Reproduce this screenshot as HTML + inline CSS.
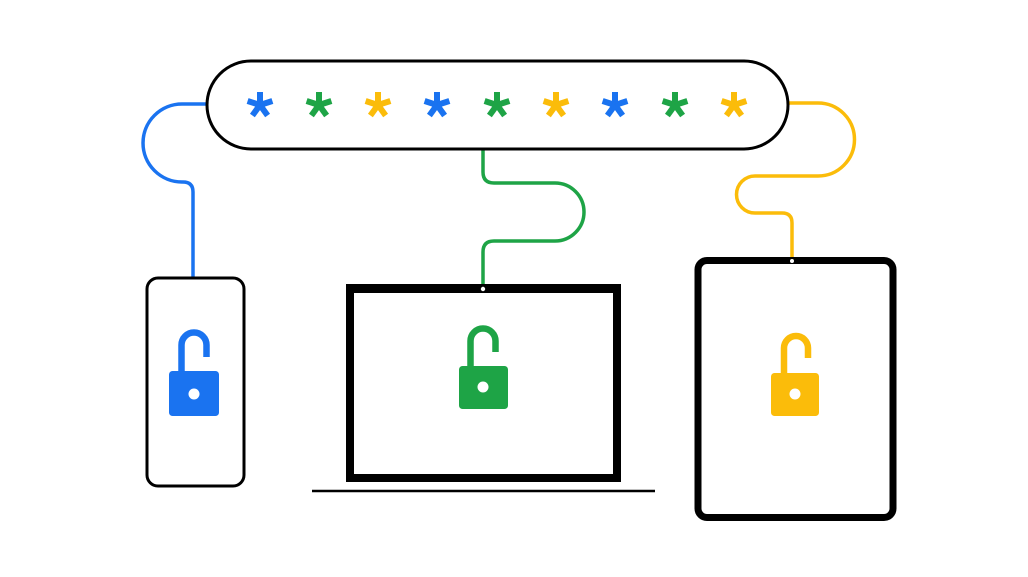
<!DOCTYPE html>
<html><head><meta charset="utf-8"><style>html,body{margin:0;padding:0;background:#fff}svg{display:block}</style></head>
<body>
<svg width="1028" height="577" viewBox="0 0 1028 577" xmlns="http://www.w3.org/2000/svg">
<defs>
<g id="ast" stroke-width="6" stroke-linecap="butt">
<line x1="0" y1="0" x2="0" y2="-13"/>
<line x1="0" y1="0" x2="12.4" y2="-4"/>
<line x1="0" y1="0" x2="-12.4" y2="-4"/>
<line x1="0" y1="0" x2="7.6" y2="10.5"/>
<line x1="0" y1="0" x2="-7.6" y2="10.5"/>
</g>
</defs>
<g fill="none" stroke-width="3.5">
<path d="M206,104 H182 A39,39 0 0 0 182,182 H183 Q193,182 193,192 V278" stroke="#1a73f0"/>
<path d="M483,150 V172 Q483,183 494,183 H555 A29,29 0 0 1 555,241 H494 Q483,241 483,252 V285" stroke="#1ea446"/>
<path d="M789,103 H818 A36.5,36.5 0 0 1 818,176 H755 A18.5,18.5 0 0 0 755,213 H782 Q792,213 792,223 V259" stroke="#fbbc0a"/>
</g>
<rect x="207" y="61" width="581" height="88" rx="44" fill="#fff" stroke="#000" stroke-width="3"/>
<use href="#ast" x="260" y="105" stroke="#1a73f0"/>
<use href="#ast" x="319" y="105" stroke="#1ea446"/>
<use href="#ast" x="378" y="105" stroke="#fbbc0a"/>
<use href="#ast" x="437" y="105" stroke="#1a73f0"/>
<use href="#ast" x="497" y="105" stroke="#1ea446"/>
<use href="#ast" x="556" y="105" stroke="#fbbc0a"/>
<use href="#ast" x="615" y="105" stroke="#1a73f0"/>
<use href="#ast" x="675" y="105" stroke="#1ea446"/>
<use href="#ast" x="734" y="105" stroke="#fbbc0a"/>
<!-- phone -->
<rect x="147" y="278" width="97" height="208" rx="11" fill="#fff" stroke="#000" stroke-width="3"/>
<!-- laptop -->
<rect x="350" y="289" width="267" height="189" fill="#fff" stroke="#000" stroke-width="8"/>
<rect x="346" y="284" width="275" height="8" fill="#000"/>
<circle cx="483" cy="289" r="2.2" fill="#fff"/>
<line x1="312" y1="491" x2="655" y2="491" stroke="#000" stroke-width="2.5"/>
<!-- tablet -->
<rect x="698" y="260.5" width="195" height="257" rx="9" fill="#fff" stroke="#000" stroke-width="7"/>
<circle cx="792" cy="261" r="2" fill="#fff"/>
<!-- locks -->
<g>
<path d="M181.5,372 V345 A12.5,12.5 0 0 1 206.5,345 V357" fill="none" stroke="#1a73f0" stroke-width="6.5"/>
<rect x="169" y="371" width="50" height="45" rx="3.5" fill="#1a73f0"/>
<circle cx="194" cy="394" r="5.5" fill="#fff"/>
</g>
<g>
<path d="M470.5,367 V341 A12.5,12.5 0 0 1 495.5,341 V352" fill="none" stroke="#1ea446" stroke-width="6.5"/>
<rect x="459" y="366" width="49" height="43" rx="3.5" fill="#1ea446"/>
<circle cx="483" cy="387" r="5.5" fill="#fff"/>
</g>
<g>
<path d="M784,374 V348 A12,12 0 0 1 808,348 V358" fill="none" stroke="#fbbc0a" stroke-width="6.5"/>
<rect x="771" y="373" width="48" height="43" rx="3.5" fill="#fbbc0a"/>
<circle cx="795" cy="394" r="5.5" fill="#fff"/>
</g>
</svg>
</body></html>
